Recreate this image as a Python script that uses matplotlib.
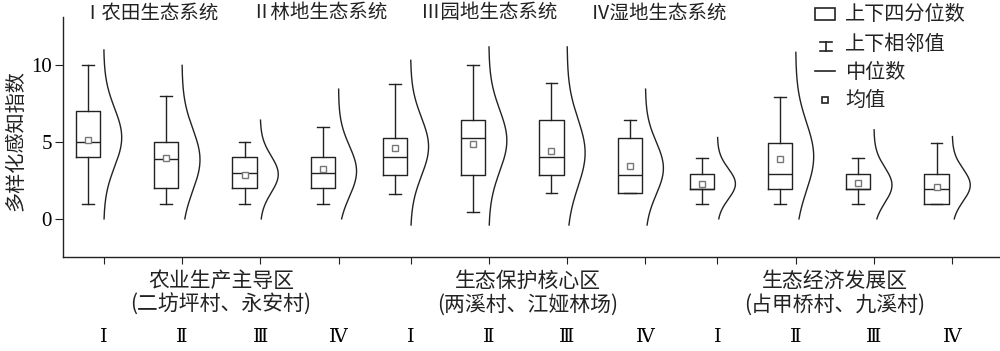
import numpy as np
import matplotlib
matplotlib.use("Agg")
import matplotlib.pyplot as plt
from matplotlib.patches import Rectangle

plt.rcParams["font.family"] = ["Noto Sans CJK SC", "DejaVu Sans"]

# box statistics, 3 zones x 4 ecosystems
q1 = [4, 2, 2, 2, 2.87, 2.87, 2.85, 1.66, 1.95, 1.95, 1.95, 0.98]
med = [5, 3.93, 3, 3, 4.06, 5.25, 4.06, 2.87, 1.95, 2.9, 1.95, 1.95]
q3 = [7, 5, 4, 4, 5.25, 6.43, 6.45, 5.25, 2.93, 4.97, 2.93, 2.93]
whislo = [1, 1, 1, 1, 1.65, 0.46, 1.66, 1.66, 0.96, 0.96, 0.96, 0.98]
whishi = [10, 8, 5, 6, 8.8, 10.0, 8.84, 6.45, 3.95, 7.93, 3.95, 4.97]
means = [5.15, 3.95, 2.87, 3.26, 4.62, 4.88, 4.43, 3.45, 2.28, 3.9, 2.35, 2.1]

# fitted normal curves beside each box
curve_mu = [5.3, 3.85, 2.9, 3.1, 4.7, 5.1, 4.3, 3.3, 2.28, 4.06, 2.2, 2.2]
curve_sd = [1.9, 2.0, 1.2, 1.65, 1.9, 2.0, 2.2, 1.7, 1.0, 2.2, 1.15, 1.05]
curve_lo = [0, 0, 0, 0, -0.4, -0.4, -0.4, -0.4, 0, 0, 0, 0]
curve_hi = [11.0, 10.0, 6.43, 8.45, 10.33, 11.2, 11.2, 8.45, 5.3, 10.85, 5.8, 5.36]

numerals = ["Ⅰ", "Ⅱ", "Ⅲ", "Ⅳ"]
zones = ["农业生产主导区\n(二坊坪村、永安村)",
         "生态保护核心区\n(两溪村、江娅林场)",
         "生态经济发展区\n(占甲桥村、九溪村)"]
titles = ["Ⅰ农田生态系统", "Ⅱ林地生态系统", "Ⅲ园地生态系统", "Ⅳ湿地生态系统"]
legend_labels = ["上下四分位数", "上下相邻值", "中位数", "均值"]

LC = "#222222"
n = len(med)
group = np.arange(n) // 4
pos = np.arange(n) - 0.08 * group

fig = plt.figure(figsize=(10, 3.51), dpi=100)
ax = fig.add_axes([0.063, 0.268, 0.937, 0.684])

stats = [dict(med=med[i], q1=q1[i], q3=q3[i], whislo=whislo[i], whishi=whishi[i],
              mean=means[i]) for i in range(n)]
ax.bxp(stats, positions=pos, widths=0.31, capwidths=0.15, showmeans=True,
       showfliers=False, manage_ticks=False,
       boxprops=dict(color=LC, lw=1.0), whiskerprops=dict(color=LC, lw=1.0),
       capprops=dict(color=LC, lw=1.0), medianprops=dict(color=LC, lw=1.0),
       meanprops=dict(marker="s", markersize=4.5, markerfacecolor="white",
                      markeredgecolor="#777777", markeredgewidth=1.0))

for i in range(n):
    y = np.linspace(curve_lo[i], curve_hi[i], 200)
    x = pos[i] + 0.2 + 0.23 * np.exp(-0.5 * ((y - curve_mu[i]) / curve_sd[i]) ** 2)
    ax.plot(x, y, color=LC, lw=1.0)

ax.set_xlim(-0.32, 11.65)
ax.set_ylim(-2.48, 13.16)
ax.set_yticks([0, 5, 10])
ax.set_yticklabels(["0", "5", "10"], family="Liberation Serif", fontsize=15)
ax.set_xticks(pos + 0.2)
ax.set_xticklabels([numerals[i % 4] for i in range(n)],
                   family=["DejaVu Serif", "Noto Sans CJK SC"], fontsize=14)
ax.tick_params(axis="x", direction="out", length=5, pad=46, color=LC)
ax.tick_params(axis="y", direction="out", length=6, pad=2, color=LC)
for s in ["top", "right"]:
    ax.spines[s].set_visible(False)
for s in ["left", "bottom"]:
    ax.spines[s].set_color(LC)
    ax.spines[s].set_linewidth(1.0)

for g in range(3):
    xc = (pos[4 * g + 1] + pos[4 * g + 2]) / 2 + 0.2
    ax.text(xc, -4.82, zones[g], ha="center", va="center", fontsize=15,
            linespacing=1.1, color=LC, clip_on=False)

# overlay in pixel units for titles, y label and legend
ov = fig.add_axes([0, 0, 1, 1], facecolor="none")
ov.set_xlim(0, 1000)
ov.set_ylim(351, 0)
ov.axis("off")

ov.text(16, 141, "多样化感知指数", rotation=90, ha="center", va="center",
        fontsize=14.5, color=LC)
for t, x0 in zip(titles, [82, 251, 421, 591]):
    ov.text(x0, 13, t, ha="left", va="center", fontsize=14, color=LC)

ov.add_patch(Rectangle((815, 8), 20, 12, fill=False, ec=LC, lw=1.2))
ov.plot([820, 832], [42, 42], color=LC, lw=1.2)
ov.plot([826, 826], [42, 51], color=LC, lw=1.2)
ov.plot([820, 832], [51, 51], color=LC, lw=1.2)
ov.plot([815, 835], [71, 71], color=LC, lw=1.2)
ov.plot([825], [100], marker="s", markersize=4.5, mfc="white", mec=LC, mew=1.2)
for lab, yy in zip(legend_labels, [14, 45, 72, 100]):
    ov.text(845, yy, lab, ha="left", va="center", fontsize=14.5, color=LC)

fig.savefig("out.png", dpi=100)
